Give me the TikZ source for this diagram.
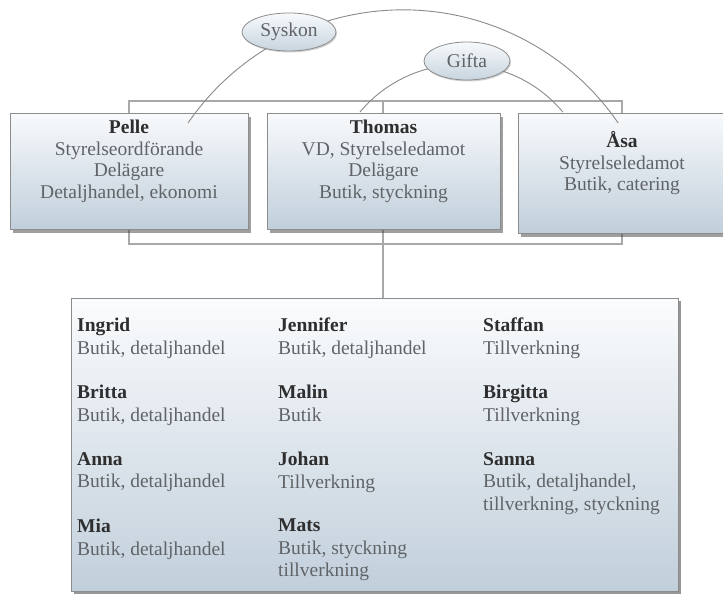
\documentclass[tikz,border=0pt]{standalone}
\usepackage{fontspec}
\setmainfont{Liberation Serif}
\usetikzlibrary{shapes.geometric,shadows,backgrounds}
\definecolor{boxtop}{HTML}{F8FAFC}
\definecolor{boxbot}{HTML}{C1CFDB}
\definecolor{rim}{HTML}{8C8C8C}
\definecolor{ink}{HTML}{606468}
\definecolor{namecol}{HTML}{2E2E2E}
\definecolor{wire}{HTML}{A8A8A8}
\definecolor{arcline}{HTML}{8A8A8A}

\begin{document}
\begin{tikzpicture}[
  x=1pt,y=-1pt,
  every node/.style={inner sep=0pt},
  card/.style={draw=rim,line width=0.9pt,top color=boxtop,bottom color=boxbot,
    drop shadow={shadow xshift=2.5pt,shadow yshift=-3.5pt,opacity=.5,fill=black!75},
    align=center,text=ink,font=\fontsize{19.5}{21.5}\selectfont,text depth=23.5pt},
  panel/.style={draw=rim,line width=0.9pt,top color=boxtop!60!white,bottom color=boxbot,
    drop shadow={shadow xshift=3pt,shadow yshift=-3pt,opacity=.55,fill=black!75}},
  bubble/.style={ellipse,draw=rim,line width=0.8pt,top color=boxtop,bottom color=boxbot!90!white,
    drop shadow={shadow xshift=1pt,shadow yshift=-1.5pt,opacity=.3,fill=black!60},
    text=ink,font=\fontsize{19.5}{22}\selectfont},
  person/.style={anchor=north west,align=left,text=ink,font=\fontsize{19.5}{22.5}\selectfont},
  wireline/.style={draw=wire,line width=1.3pt},
  tie/.style={draw=arcline,line width=0.9pt}
]
\useasboundingbox (0,0) rectangle (723,594);
\clip (0,0) rectangle (723,594);

% owners
\node[card,minimum width=238,minimum height=116] (pelle) at (129,171)
  {\textcolor{namecol}{\bfseries Pelle}\\Styrelseordförande\\Delägare\\Detaljhandel, ekonomi};
\node[card,minimum width=233,minimum height=116] (thomas) at (383.5,171)
  {\textcolor{namecol}{\bfseries Thomas}\\VD, Styrelseledamot\\Delägare\\Butik, styckning};
\node[card,minimum width=208,minimum height=120] (asa) at (622,173)
  {\textcolor{namecol}{\bfseries Åsa}\\Styrelseledamot\\Butik, catering};

% staff
\node[panel,minimum width=607,minimum height=293] (staff) at (374.5,444.5) {};

\coordinate (topbus) at (383,101);
\coordinate (lowbus) at (383,244);
\begin{scope}[on background layer]
\draw[wireline] (pelle.center) |- (topbus) -| (asa.center);
\draw[wireline] (pelle.center) |- (lowbus) -| (asa.center);
\draw[wireline] (topbus) -- (topbus |- staff.north);
\end{scope}

\node[person] (ingrid) at (77,318) {\textcolor{namecol}{\bfseries Ingrid}\\Butik, detaljhandel};
\node[person] (britta) at (77,385) {\textcolor{namecol}{\bfseries Britta}\\Butik, detaljhandel};
\node[person] (anna) at (77,452) {\textcolor{namecol}{\bfseries Anna}\\Butik, detaljhandel};
\node[person] (mia) at (77,519) {\textcolor{namecol}{\bfseries Mia}\\Butik, detaljhandel};
\node[person] (jennifer) at (278,318) {\textcolor{namecol}{\bfseries Jennifer}\\Butik, detaljhandel};
\node[person] (malin) at (278,385) {\textcolor{namecol}{\bfseries Malin}\\Butik};
\node[person] (johan) at (278,452) {\textcolor{namecol}{\bfseries Johan}\\Tillverkning};
\node[person] (mats) at (278,519) {\textcolor{namecol}{\bfseries Mats}\\Butik, styckning\\tillverkning};
\node[person] (staffan) at (483,318) {\textcolor{namecol}{\bfseries Staffan}\\Tillverkning};
\node[person] (birgitta) at (483,385) {\textcolor{namecol}{\bfseries Birgitta}\\Tillverkning};
\node[person] (sanna) at (483,452) {\textcolor{namecol}{\bfseries Sanna}\\Butik, detaljhandel,\\tillverkning, styckning};

% family ties
\coordinate (sysL) at (188,123);
\coordinate (gifL) at (360,112);
\draw[tie] (sysL) arc[start angle=214.5,end angle=325.5,radius=261];
\draw[tie] (gifL) arc[start angle=219.8,end angle=320.2,radius=132];
\node[bubble,minimum width=94,minimum height=38] (syskon) at (289,32) {Syskon};
\node[bubble,minimum width=86,minimum height=38] (gifta) at (467,61) {Gifta};
\end{tikzpicture}
\end{document}
